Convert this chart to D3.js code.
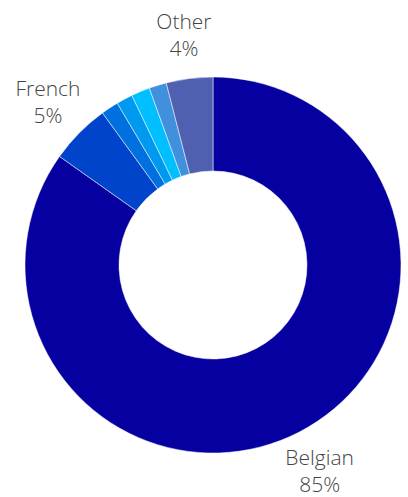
<!DOCTYPE html>
<html>
<head>
<meta charset="utf-8">
<script src="https://cdn.jsdelivr.net/npm/d3@7"></script>
<style>
  body { margin: 0; background: #fff; }
</style>
</head>
<body>
<div id="donut_container"></div>
<script>
// data
const categories = ["Belgian", "French", "Group A", "Group B", "Group C", "Group D", "Other"];
const shares = [84.8, 5.2, 1.5, 1.4, 1.6, 1.5, 4.0];
const labels = ["Belgian", "French", "", "", "", "", "Other"];
const pctLabels = ["85%", "5%", "", "", "", "", "4%"];
const colours = ["#0600a0", "#0044cc", "#0070e0", "#0099f0", "#00bfff", "#4090dd", "#5060b0"];

function renderDonut() {
  d3.select("#donut_container").select("svg").remove();

  const width = 408;
  const height = 497;
  const cx = 213;
  const cy = 265;
  const outerR = 188;
  const innerR = 94;
  const labelR = 232;

  const svg = d3.select("#donut_container")
    .append("svg")
    .attr("width", width)
    .attr("height", height);

  const g = svg.append("g")
    .attr("transform", `translate(${cx},${cy})`);

  const rows = categories.map((c, i) => ({
    name: c, value: shares[i], label: labels[i], pct: pctLabels[i], colour: colours[i]
  }));

  const pie = d3.pie()
    .sort(null)
    .value(d => d.value);

  const arc = d3.arc()
    .innerRadius(innerR)
    .outerRadius(outerR);

  const labelArc = d3.arc()
    .innerRadius(labelR)
    .outerRadius(labelR);

  const slices = pie(rows);

  g.selectAll("path.slice")
    .data(slices)
    .enter()
    .append("path")
    .attr("class", "slice")
    .attr("d", arc)
    .attr("fill", d => d.data.colour)
    .attr("stroke", "#fff")
    .attr("stroke-width", 0.5);

  // outside labels, two lines each
  const lab = g.selectAll("text.lab")
    .data(slices.filter(d => d.data.label))
    .enter()
    .append("text")
    .attr("class", "lab")
    .attr("transform", d => `translate(${labelArc.centroid(d)})`)
    .attr("text-anchor", "middle")
    .style("font-family", "'Open Sans', sans-serif")
    .style("font-weight", 300)
    .style("font-size", "21px")
    .style("fill", "#444");

  lab.append("tspan")
    .attr("x", 0)
    .attr("y", -6)
    .text(d => d.data.label);

  lab.append("tspan")
    .attr("x", 0)
    .attr("y", 21)
    .text(d => d.data.pct);
}

renderDonut();
</script>
</body>
</html>
